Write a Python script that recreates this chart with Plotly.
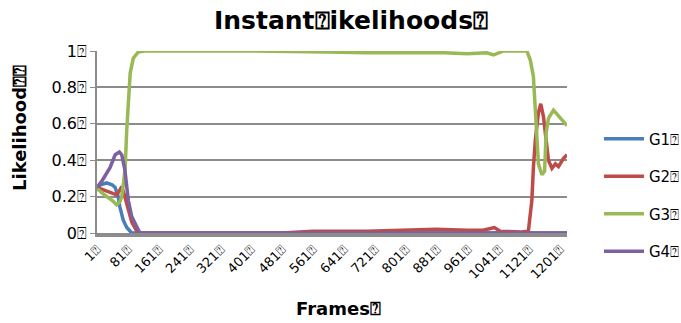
import plotly.graph_objects as go

Q = "\u2370"

g1_frames = [1, 10, 26, 40, 48, 56, 60, 65, 69, 78, 91, 1218]
g1_values = [0.25, 0.265, 0.275, 0.265, 0.25, 0.2, 0.145, 0.1, 0.07, 0.03, 0.0, 0.0]

g2_frames = [1, 15, 30, 43, 52, 60, 65, 73, 82, 91, 104, 115, 480, 560, 700, 800, 880, 960, 1000,
             1020, 1030, 1045, 1100, 1118, 1127, 1131, 1136, 1144, 1150, 1157, 1162, 1170, 1179,
             1188, 1196, 1209, 1218]
g2_values = [0.25, 0.24, 0.225, 0.215, 0.21, 0.235, 0.255, 0.2, 0.126, 0.06, 0.01, 0.0, 0.0, 0.01,
             0.01, 0.015, 0.02, 0.015, 0.015, 0.025, 0.03, 0.01, 0.005, 0.01, 0.18, 0.36, 0.51, 0.66,
             0.71, 0.64, 0.53, 0.40, 0.355, 0.38, 0.365, 0.41, 0.43]

g3_frames = [1, 20, 40, 52, 60, 65, 70, 74, 78, 82, 87, 95, 108, 125, 400, 600, 700, 800, 900, 960,
             990, 1010, 1028, 1040, 1053, 1114, 1123, 1131, 1136, 1138, 1144, 1153, 1160, 1164, 1170,
             1183, 1200, 1218]
g3_values = [0.245, 0.21, 0.18, 0.155, 0.17, 0.2, 0.28, 0.36, 0.566, 0.75, 0.88, 0.96, 0.995, 1.0,
             1.0, 0.995, 0.99, 0.99, 0.99, 0.985, 0.99, 0.99, 0.978, 0.99, 1.0, 1.0, 0.95, 0.86, 0.69,
             0.55, 0.38, 0.32, 0.34, 0.55, 0.63, 0.675, 0.63, 0.59]

g4_frames = [1, 15, 35, 48, 59, 65, 73, 78, 82, 91, 104, 112, 1218]
g4_values = [0.25, 0.29, 0.36, 0.43, 0.445, 0.43, 0.35, 0.27, 0.18, 0.09, 0.03, 0.0, 0.0]

series_names = ["G1", "G2", "G3", "G4"]
colors = ["#4A7EBB", "#BE4B48", "#98B954", "#7D60A0"]

x_tick_vals = list(range(1, 1202, 80))
x_tick_text = [f"{v}{Q}" for v in x_tick_vals]
y_tick_vals = [0, 0.2, 0.4, 0.6, 0.8, 1]
y_tick_text = ["0" + Q, "0.2" + Q, "0.4" + Q, "0.6" + Q, "0.8" + Q, "1" + Q]

FONT = "'DejaVu Sans', sans-serif"
W, H = 681, 323

fig = go.Figure()
data = [(g1_frames, g1_values), (g2_frames, g2_values), (g3_frames, g3_values), (g4_frames, g4_values)]
for (fx, fy), name, col in zip(data, series_names, colors):
    fig.add_trace(go.Scatter(x=fx, y=fy, mode="lines", name=name + Q, legendgroup=name,
                             line=dict(color=col, width=3.5)))

fig.update_layout(
    width=W, height=H, autosize=False,
    margin=dict(l=97, r=114, t=51, b=90),
    paper_bgcolor="white", plot_bgcolor="white",
    font=dict(family=FONT, color="black"),
    title=dict(text="<b>Instant" + Q + "ikelihoods" + Q + "</b>", x=351 / W, xanchor="center",
               xref="container", y=1 - 20 / H, yref="container", yanchor="middle",
               font=dict(size=25, family=FONT, color="black")),
    legend=dict(x=599 / W, xanchor="left", xref="container", y=1 - 195 / H, yanchor="middle",
                yref="container", font=dict(size=15, family=FONT), tracegroupgap=15, itemwidth=40,
                bgcolor="rgba(0,0,0,0)"),
    showlegend=True,
    annotations=[
        dict(text="<b>Likelihood" + Q + Q + "</b>", textangle=-90, xref="paper", yref="paper",
             x=(20 - 97) / 470, y=0.577, xanchor="center", yanchor="middle", showarrow=False,
             font=dict(size=18, family=FONT, color="black")),
        dict(text="<b>Frames" + Q + "</b>", xref="paper", yref="paper",
             x=(338 - 97) / 470, y=(233 - 308) / 182, xanchor="center", yanchor="middle",
             showarrow=False, font=dict(size=18, family=FONT, color="black")),
    ],
)
fig.update_xaxes(range=[1, 1218], tickmode="array", tickvals=x_tick_vals, ticktext=x_tick_text,
                 tickangle=-45, tickfont=dict(size=13), showgrid=False, zeroline=False,
                 showline=True, linecolor="#8C8C8C", linewidth=4, ticks="", automargin=False)
fig.update_yaxes(range=[0, 1], tickmode="array", tickvals=y_tick_vals, ticktext=y_tick_text,
                 tickfont=dict(size=16), showgrid=True, gridcolor="#8C8C8C", gridwidth=1.5,
                 zeroline=False, showline=True, linecolor="#8C8C8C", linewidth=1.5,
                 ticks="outside", ticklen=5, tickcolor="#8C8C8C", automargin=False)

post = (
    "var gd=document.getElementById('{plot_id}');"
    "document.documentElement.style.margin='0';document.documentElement.style.overflow='hidden';"
    "document.body.style.margin='0';document.body.style.padding='0';document.body.style.overflow='hidden';"
    "gd.style.width='681px';gd.style.height='323px';"
    "Plotly.relayout(gd,{width:681,height:323});"
)
fig.write_html("out.html", config={"responsive": False, "displayModeBar": False}, post_script=post)
